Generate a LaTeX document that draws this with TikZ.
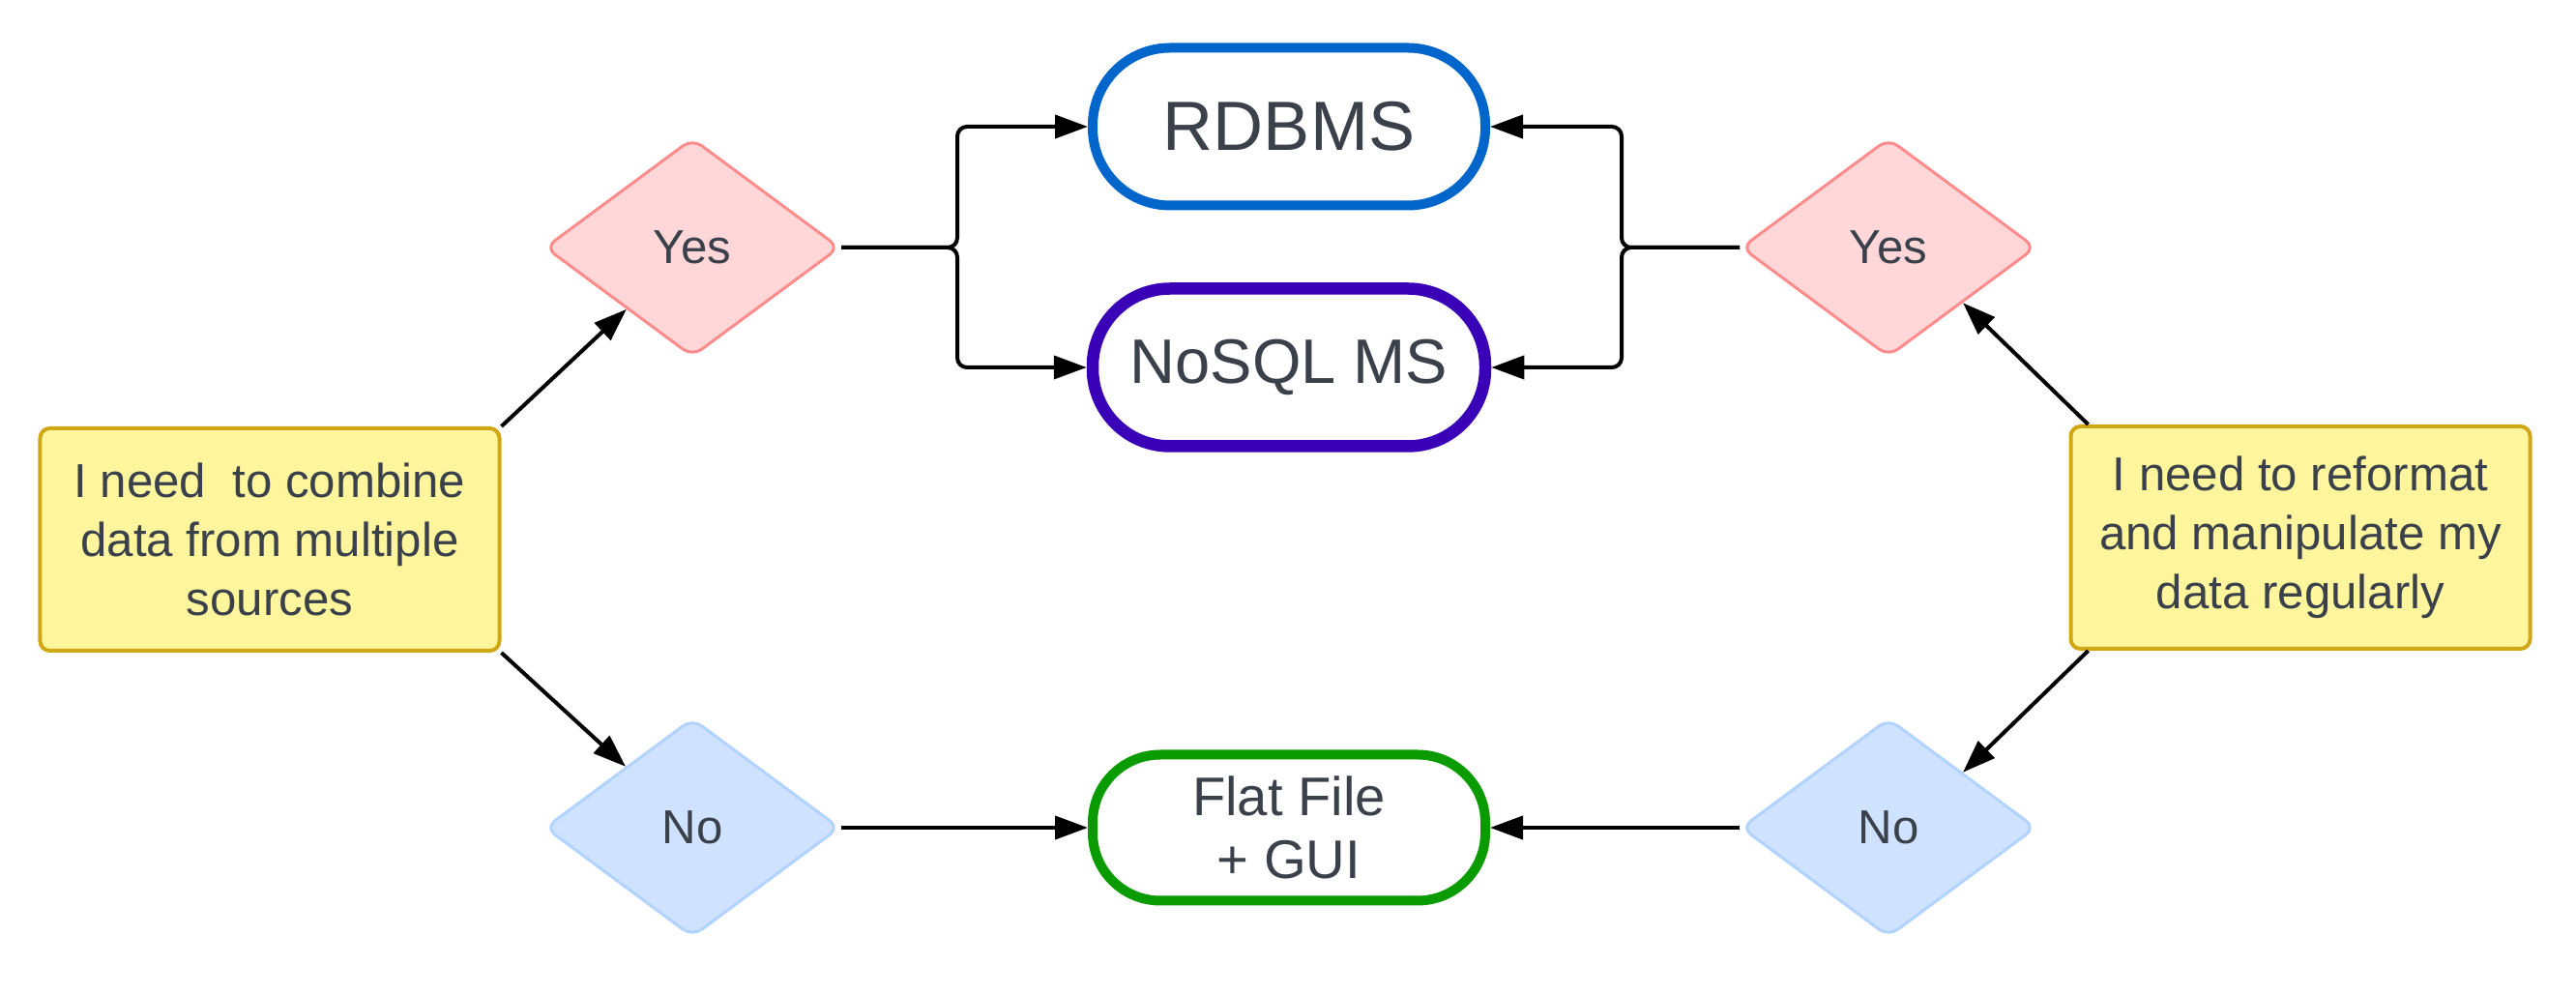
\documentclass[tikz,border=0pt]{standalone}
\usepackage{fontspec}
\setmainfont{Liberation Sans}
\usetikzlibrary{arrows.meta,shapes.geometric}
\definecolor{textgray}{HTML}{3A414A}
\definecolor{needfill}{HTML}{FFF59D}
\definecolor{needline}{HTML}{D0A815}
\definecolor{yesfill}{HTML}{FFD7D9}
\definecolor{yesline}{HTML}{FF8C8C}
\definecolor{nofill}{HTML}{CFE2FF}
\definecolor{noline}{HTML}{B3D3FF}
\definecolor{rdbline}{HTML}{0066CC}
\definecolor{nosqlline}{HTML}{3A00B8}
\definecolor{flatline}{HTML}{099B00}

\begin{document}
\begin{tikzpicture}[
    need/.style={draw=needline,fill=needfill,line width=0.04cm,rounded corners=0.1cm,
      minimum width=4.75cm,minimum height=2.3cm,align=center,text=textgray,
      font=\fontsize{14}{17.4}\selectfont},
    answer/.style={diamond,aspect=1.35,inner sep=0pt,line width=0.03cm,rounded corners=0.12cm,
      minimum width=3.05cm,minimum height=2.26cm,text=textgray,font=\fontsize{14}{17}\selectfont},
    yesbox/.style={answer,draw=yesline,fill=yesfill},
    nobox/.style={answer,draw=noline,fill=nofill},
    store/.style={draw,fill=white,rounded corners=0.8cm,minimum width=4.06cm,
      minimum height=1.63cm,align=center,text=textgray},
    link/.style={-{Triangle[length=0.34cm,width=0.24cm]},line width=0.04cm,black}
  ]
  \useasboundingbox (0,0) rectangle (26.64,10.28);

  % questions
  \node[need] (combine) at (2.79,4.70) {I need\ \ to combine\\data from multiple\\sources};
  \node[need] (reformat) at (23.79,4.72) {I need to reformat\\and manipulate my\\data regularly};

  % answers
  \node[yesbox] (yesL) at (7.16,7.72) {Yes};
  \node[nobox] (noL) at (7.16,1.72) {No};
  \node[yesbox] (yesR) at (19.53,7.72) {Yes};
  \node[nobox] (noR) at (19.53,1.72) {No};

  % storage choices
  \node[store,draw=rdbline,line width=0.1cm,font=\fontsize{20.5}{24}\selectfont]
    (rdbms) at (13.33,8.97) {RDBMS};
  \node[store,draw=nosqlline,line width=0.125cm,font=\fontsize{18.5}{22}\selectfont]
    (nosql) at (13.33,6.48) {NoSQL MS};
  \node[store,draw=flatline,line width=0.1cm,rounded corners=0.7cm,minimum height=1.51cm,
    font=\fontsize{16}{18.5}\selectfont] (flat) at (13.33,1.72) {Flat File\\+ GUI};

  \draw[link] (combine.north east) -- (yesL);
  \draw[link] (combine.south east) -- (noL);
  \draw[link] ([xshift=0.2cm]reformat.north west) -- (yesR.south east);
  \draw[link] ([xshift=0.2cm]reformat.south west) -- (noR.north east);

  \draw[link,rounded corners=0.1cm] (yesL.east) -- ++(1.20,0) |- (rdbms.west);
  \draw[link,rounded corners=0.1cm] (yesL.east) -- ++(1.20,0) |- (nosql.west);
  \draw[link,rounded corners=0.1cm] (yesR.west) -- ++(-1.22,0) |- (rdbms.east);
  \draw[link,rounded corners=0.1cm] (yesR.west) -- ++(-1.22,0) |- (nosql.east);

  \draw[link] (noL) -- (flat);
  \draw[link] (noR) -- (flat);
\end{tikzpicture}
\end{document}
